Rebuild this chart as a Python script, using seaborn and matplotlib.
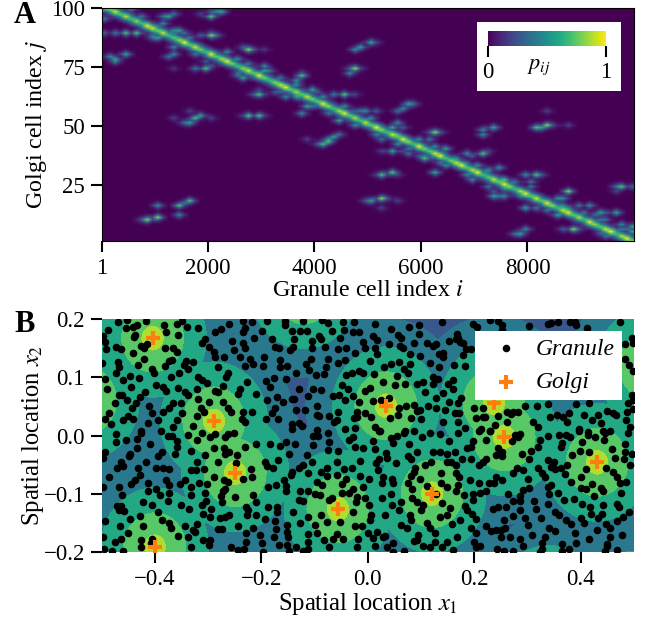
import numpy as np
import pandas as pd
import matplotlib.pyplot as plt
import seaborn as sns

# Panel A: strongest row/column entries
diag_i = [50, 150, 250, 350, 450, 550, 650, 750, 850, 950, 1050, 1150, 1250, 1350, 1450, 1550, 1650, 1750, 1850, 1950,
          2050, 2150, 2250, 2350, 2450, 2550, 2650, 2750, 2850, 2950, 3050, 3150, 3250, 3350, 3450, 3550, 3650, 3750, 3850, 3950,
          4050, 4150, 4250, 4350, 4450, 4550, 4650, 4750, 4850, 4950, 5050, 5150, 5250, 5350, 5450, 5550, 5650, 5750, 5850, 5950,
          6050, 6150, 6250, 6350, 6450, 6550, 6650, 6750, 6850, 6950, 7050, 7150, 7250, 7350, 7450, 7550, 7650, 7750, 7850, 7950,
          8050, 8150, 8250, 8350, 8450, 8550, 8650, 8750, 8850, 8950, 9050, 9150, 9250, 9350, 9450, 9550, 9650, 9750, 9850, 9950]
diag_p = [.95, .8, .95, .75, .9, .7, .85, .7, 1, .95, .8, .95, .7, .75, .85, 1, .75, .95, .8, .7,
          1, .75, .9, 1, .8, .7, .85, .95, .75, 1, .8, .7, .85, .95, 1, .75, .9, .75, .95, .8,
          .75, 1, .85, .7, .9, 1, .75, .9, .7, .95, .75, 1, .85, .7, .95, .75, 1, .85, .7, 1,
          .8, .75, .95, 1, .7, .8, .95, 1, .75, .9, 1, .7, .75, .95, .8, 1, .85, .7, .9, 1,
          .75, .95, .75, 1, .85, .7, .95, 1, .75, .9, .7, 1, .85, .75, .95, 1, .7, .9, 1, .85]
hot_cells = [
    (81, 94.8, .4), (533, 99.3, .4), (407, 88.7, .7), (470, 89.4, .5), (689, 88.7, .7), (282, 88.7, .4), (94, 88.7, .3),
    (188, 78.8, .5), (282, 78.1, .6), (407, 79.8, .6), (251, 77.4, .5), (1203, 96.5, .6), (1316, 96.8, .4), (1147, 95.8, .4),
    (1848, 96.8, .2), (2099, 96.5, .7), (2193, 97.6, .5), (2287, 98.3, .6), (2099, 98.2, .3), (1034, 86.6, .6), (1097, 91.5, .4),
    (1191, 92.9, .5), (940, 86.6, .4), (1347, 89.4, .4), (1441, 90.1, .6), (1535, 89.4, .4), (1347, 83.1, .5), (1316, 80.2, .5),
    (1272, 79.2, .4), (1848, 87.6, .3), (2068, 87.6, .8), (2193, 87.6, .4), (2068, 89.4, .3), (1911, 73.6, .7), (1786, 73.6, .4),
    (2005, 74.6, .3), (1974, 76.7, .3), (1316, 73.6, .15), (2726, 81.6, .8), (2851, 81.6, .3), (2694, 83.1, .3), (3039, 81.6, .15),
    (2600, 70.3, .6), (2569, 71.8, .4), (2757, 71.8, .4), (3039, 74.6, .5), (3102, 73.2, .4), (2914, 70.3, .4), (2926, 63.3, .7),
    (2820, 63.3, .3), (3039, 63.3, .2), (2926, 65.4, .2), (3227, 64, .3), (3478, 61.6, .5), (3603, 61.6, .6), (3666, 64, .3),
    (3728, 71.3, .7), (3666, 68.9, .5), (3791, 71.8, .3), (3603, 68.2, .4), (3948, 65.1, .6), (3885, 63.3, .5), (4010, 64, .3),
    (3822, 57.6, .6), (3791, 54.8, .5), (1347, 52.7, .2), (1535, 50.6, .4), (1660, 50.6, .6), (1754, 52.7, .7), (1880, 53.8, .6),
    (2005, 53.4, .2), (1692, 56.2, .2), (2757, 53.8, .7), (2914, 54.1, .7), (3039, 54.1, .2), (2632, 54.1, .2), (3854, 44.2, .2),
    (4167, 42.5, .7), (4261, 43.5, .6), (4042, 42.5, .3), (846, 9.6, .8), (1003, 11, .8), (721, 9.6, .3), (1046, 16, .5),
    (1473, 11.5, .5), (1473, 16, .7), (1660, 17.7, .7), (1504, 16.7, .4),
    (4574, 62.9, .7), (4323, 62.6, .4), (4731, 62.9, .2), (4449, 51.6, .6), (4856, 83.1, .6), (5013, 84.9, .6), (4762, 81.6, .5),
    (5138, 84.9, .2), (4781, 73.6, .8), (4637, 71.8, .5), (4637, 73.6, .3), (4887, 73.6, .2), (5796, 58.6, .6), (5639, 56.9, .5),
    (5545, 56.2, .4), (5890, 59, .4), (4229, 42.8, .7), (4386, 44.9, .6), (4480, 45.6, .4), (4950, 56.2, .5), (4731, 56.2, .3),
    (5107, 56.2, .3), (5107, 45.9, .5), (5107, 47.8, .3), (5451, 38.9, .6), (5295, 38.6, .2), (5608, 38.6, .2), (5577, 50.6, .5),
    (5608, 49.2, .3), (5407, 46.3, .5), (5545, 46.3, .7), (6234, 46.8, .8), (6141, 46.8, .3), (6360, 46.8, .3), (6172, 44.2, .4),
    (6222, 41.4, .4), (6078, 36, .7), (5952, 37.2, .3), (6485, 40, .6), (6454, 37.2, .5), (6360, 34.3, .4), (6297, 30.1, .6),
    (6172, 36, .3), (5796, 40, .4), (7112, 48.5, .5), (7300, 48.7, .6), (7143, 46.3, .5), (6830, 37.9, .5), (7112, 38.3, .7),
    (6986, 37.2, .3), (7206, 38.6, .2), (5263, 28.7, .7), (5407, 29.7, .7), (5138, 28.7, .2), (5545, 29.4, .2), (5201, 18.8, .8),
    (5044, 18.1, .6), (4919, 18.1, .3), (5326, 18.8, .3), (5201, 14.6, .2), (5577, 18.5, .2), (8114, 49.2, .7), (8365, 50.2, .8),
    (8240, 49.2, .6), (8490, 50.2, .3), (8710, 49.5, .2), (8365, 56.2, .2), (6974, 26.6, .5), (7425, 31.5, .5), (7362, 26.6, .5),
    (7519, 26.6, .7), (7237, 30.1, .4), (7300, 20.2, .6), (7425, 20.2, .4), (7550, 20.2, .5), (7362, 22.3, .3), (7989, 28.7, .5),
    (8114, 28.7, .7), (8083, 25.9, .4), (8240, 28.7, .3), (7926, 14.6, .6), (8114, 14.6, .4), (7989, 22.3, .4), (8741, 21.6, .8),
    (8678, 18.8, .5), (8616, 16, .5), (8584, 11.8, .6), (9775, 23.8, .7), (9618, 23.5, .4), (9931, 23.8, .3), (9649, 21.6, .2),
    (9618, 13.4, .6), (9493, 13.2, .3), (9305, 13.2, .6), (9117, 16, .5), (8960, 16, .4), (9054, 13.2, .4), (8835, 5.7, .8),
    (8678, 5.7, .3), (8960, 5.7, .3), (7864, 4.3, .6), (7770, 4, .4), (7926, 6.1, .5), (9305, 9.6, .4), (9430, 10.3, .4),
    (9712, 7.5, .5), (9963, 6.8, .6), (9869, 6.1, .4), (9493, 3.3, .4), (9681, 4.7, .6), (8427, 17.4, .6),
]
# teal spurs right next to the diagonal
near_diag_cells = [
    (700, 96, .4), (900, 88, .4), (1300, 90, .5), (1600, 87, .4), (1700, 80, .4), (2300, 81, .5), (2500, 78, .5), (2700, 76, .4),
    (2500, 71, .4), (3000, 73, .6), (3300, 70, .4), (3300, 64, .3), (3600, 67, .5), (3900, 58, .4), (4100, 62, .5), (4200, 55, .4),
    (4500, 58, .5), (4700, 50, .5), (4800, 56, .4), (5000, 53, .5), (5200, 44, .4), (5400, 49, .6), (5500, 42, .5), (5700, 38, .4),
    (5900, 44, .5), (6000, 37, .4), (6200, 41, .5), (6300, 36, .6), (6400, 33, .5), (6600, 36, .5), (6800, 29, .5), (6800, 34, .4),
    (7000, 33, .5), (7200, 24, .4), (7200, 31, .5), (7500, 23, .5), (7700, 26, .4), (7800, 20, .5), (8000, 24, .4), (8300, 14, .4),
    (8500, 19, .5), (8700, 15, .5), (9000, 11, .5), (9200, 12, .4), (9500, 6, .5), (9700, 6, .4), (9900, 5, .6), (9800, 1.5, .5),
    (9300, 4, .3),
]

# Panel B: cell positions
golgi_x1 = [-.404, -.289, .034, .237, -.249, -.400, -.056, .121, .256, .431]
golgi_x2 = [.167, .025, .051, .056, -.064, -.191, -.126, -.100, -.002, -.046]
# centres just outside the axes, guessed from the rings that reach into view
offview_x1 = [-.53, .53, .50, .34, -.12]
offview_x2 = [.06, .12, -.30, -.29, .25]
# distance from nearest Golgi cell at which the background changes band
ring_radii = [0, .022, .06, .103, .152, 1]

granule_top = [
    (-.469, .195), (-.453, .198), (-.416, .197), (-.349, .197), (-.383, .190), (-.359, .191), (-.340, .186), (-.318, .184),
    (-.454, .185), (-.441, .187), (-.434, .190), (-.487, .181), (-.379, .177), (-.356, .173), (-.437, .173), (-.439, .169),
    (-.498, .170), (-.493, .161), (-.492, .148), (-.473, .152), (-.464, .148), (-.425, .154), (-.421, .150), (-.415, .157),
    (-.381, .151), (-.365, .150), (-.358, .144), (-.440, .141), (-.421, .132), (-.431, .121), (-.381, .120), (-.374, .128),
    (-.368, .130), (-.341, .128), (-.328, .127), (-.346, .121), (-.337, .114), (-.354, .108), (-.406, .115), (-.401, .107),
    (-.469, .127), (-.468, .118), (-.473, .107), (-.499, .124), (-.446, .102), (-.430, .099), (-.370, .100), (-.493, .097),
    (-.459, .095), (-.445, .083), (-.398, .087), (-.384, .084), (-.378, .076), (-.356, .081), (-.344, .074), (-.337, .070),
    (-.321, .080), (-.319, .101), (-.312, .095), (-.301, .090), (-.468, .070), (-.461, .070), (-.418, .074), (-.428, .066),
    (-.490, .079), (-.475, .055), (-.453, .061), (-.435, .055), (-.442, .047), (-.410, .051), (-.366, .055), (-.374, .048),
    (-.385, .041), (-.351, .056), (-.348, .039), (-.485, .039), (-.493, .029), (-.450, .034), (-.441, .028), (-.459, .027),
    (-.406, .039), (-.393, .026), (-.358, .027), (-.482, .020), (-.412, .021), (-.366, .014), (-.425, .007), (-.318, .062),
    (-.298, .058), (-.281, .074), (-.271, .085), (-.286, .076), (-.314, .048), (-.308, .041), (-.321, .034), (-.328, .016),
    (-.271, .058), (-.262, .048), (-.257, .041), (-.234, .041), (-.217, .040), (-.237, .028), (-.230, .024), (-.192, .028),
    (-.190, .061), (-.306, .165), (-.312, .158), (-.299, .152), (-.287, .178), (-.276, .182), (-.260, .191), (-.234, .197),
    (-.217, .194), (-.190, .197), (-.199, .179), (-.230, .184), (-.235, .177), (-.214, .168), (-.254, .163), (-.234, .159),
    (-.252, .147), (-.230, .150), (-.289, .143), (-.286, .135), (-.270, .134), (-.240, .135), (-.221, .132), (-.195, .135),
    (-.216, .123), (-.230, .120), (-.196, .119), (-.281, .117), (-.263, .107), (-.266, .100), (-.191, .094), (-.226, .092),
    (-.240, .080), (-.243, .072), (-.210, .072), (-.183, .083),
    (-.155, .197), (-.121, .197), (-.085, .198), (-.074, .193), (-.046, .195), (-.026, .195), (.014, .191), (-.155, .189),
    (-.143, .179), (-.127, .179), (-.115, .179), (-.067, .179), (-.045, .181), (-.027, .177), (-.016, .178), (.044, .183),
    (.078, .187), (.096, .189), (.057, .173), (.062, .168), (.097, .174), (.139, .194), (-.179, .165), (-.139, .166),
    (-.105, .162), (-.091, .171), (-.087, .165), (-.053, .167), (.009, .171), (.018, .164), (.153, .163), (.165, .165),
    (.086, .158), (.111, .159), (.122, .154), (.129, .157), (-.008, .161), (-.005, .151), (.040, .157), (.060, .154),
    (.067, .150), (-.174, .152), (-.167, .151), (-.141, .152), (-.146, .146), (-.105, .150), (-.080, .152), (-.055, .148),
    (-.040, .151), (.014, .150), (-.024, .142), (.017, .140), (.079, .140), (.098, .137), (.133, .140), (.141, .142),
    (.142, .135), (-.165, .130), (-.107, .132), (-.116, .122), (-.074, .131), (-.043, .130), (-.055, .124), (.004, .128),
    (.043, .123), (.059, .126), (.079, .123), (.116, .124), (.162, .121), (-.164, .117), (-.152, .119), (-.110, .112),
    (-.078, .117), (.030, .117), (.069, .115), (.075, .108), (.134, .117), (-.135, .108), (-.098, .104), (-.082, .105),
    (-.041, .104), (-.030, .107), (-.016, .110), (-.008, .108), (.011, .106), (.055, .103), (-.176, .099), (-.154, .097),
    (.123, .101), (.131, .097), (.103, .092), (.092, .088), (.123, .088), (.150, .088), (.161, .095), (-.048, .086),
    (-.038, .080), (.028, .091), (.052, .087), (.070, .088), (-.006, .077), (.004, .081), (.160, .080), (-.129, .079),
    (-.102, .079), (-.088, .078), (.142, .073), (.108, .074), (-.170, .066), (-.143, .063), (-.139, .062), (-.113, .068),
    (-.066, .068), (-.054, .070), (-.027, .068), (.025, .061), (.040, .065), (.129, .065), (-.160, .058), (-.043, .061),
    (-.016, .057), (.009, .060), (.153, .058), (-.174, .048), (-.096, .051), (.072, .051), (.087, .052), (.114, .051),
    (.128, .048), (.059, .048), (-.135, .044), (-.117, .044), (-.056, .041), (-.021, .041), (-.006, .038), (.057, .035),
    (.092, .042), (.099, .043), (.146, .043), (-.180, .039), (-.096, .035), (-.092, .034), (-.073, .033), (-.021, .032),
    (.007, .031), (.041, .030), (.082, .030), (.100, .028), (.164, .038), (-.169, .028), (-.058, .027), (-.063, .023),
    (-.025, .030), (-.142, .019), (-.130, .022), (-.123, .017), (.142, .023), (-.142, .011), (-.096, .009), (-.043, .012),
    (-.024, .013), (.014, .014), (.022, .008), (.086, .008), (.070, .007),
    (.197, .191), (.230, .198), (.244, .197), (.252, .190), (.253, .181), (.303, .188), (.339, .191), (.345, .193),
    (.358, .195), (.380, .195), (.389, .194), (.392, .189), (.412, .185), (.474, .195), (.205, .187), (.167, .175),
    (.170, .167), (.178, .158), (.193, .148), (.185, .148), (.178, .138), (.183, .119), (.173, .161), (.176, .065),
    (.170, .055), (.172, .038), (.170, .024), (.183, .013), (.200, .047), (.217, .047), (.220, .032), (.203, .030),
    (.216, .032), (.295, .051), (.317, .050), (.339, .054), (.391, .054), (.416, .055), (.406, .036), (.244, .034),
    (.261, .041), (.273, .040), (.282, .040), (.269, .037), (.262, .024), (.239, .018), (.230, .008), (.311, .023),
    (.319, .015), (.342, .031), (.356, .035), (.366, .031), (.378, .039), (.375, .024), (.421, .027), (.433, .035),
    (.449, .042), (.461, .039), (.466, .035), (.438, .021), (.485, .027), (.397, .011), (.414, .006), (.442, .008),
    (.493, .014), (.212, .012), (.483, .157), (.496, .167), (.498, .158), (.483, .132), (.491, .121), (.498, .110),
    (.497, .070), (.498, .061), (.486, .041), (.489, .055), (.498, .046),
]
granule_bottom = [
    (-.473, .003), (-.425, .005), (-.388, .007), (-.376, -.001), (-.368, -.001), (-.337, .001), (-.312, .005), (-.268, -.003),
    (-.252, .005), (-.454, -.008), (-.434, -.006), (-.472, -.012), (-.408, -.015), (-.358, -.010), (-.321, -.008), (-.296, -.003),
    (-.287, .003), (-.262, .003), (-.359, -.020), (-.493, -.028), (-.497, -.039), (-.446, -.031), (-.448, -.036), (-.434, -.022),
    (-.387, -.028), (-.393, -.036), (-.362, -.032), (-.331, -.026), (-.289, -.022), (-.306, -.034), (-.270, -.022), (-.269, -.032),
    (-.261, -.028), (-.246, -.033), (-.230, -.019), (-.210, -.015), (-.183, -.014), (-.464, -.045), (-.460, -.052), (-.417, -.046),
    (-.470, -.056), (-.432, -.056), (-.428, -.068), (-.398, -.055), (-.385, -.055), (-.373, -.058), (-.321, -.046), (-.281, -.045),
    (-.248, -.048), (-.193, -.045), (-.190, -.052), (-.331, -.060), (-.323, -.059), (-.308, -.058), (-.219, -.058), (-.486, -.072),
    (-.437, -.076), (-.445, -.084), (-.412, -.082), (-.378, -.076), (-.374, -.085), (-.353, -.083), (-.343, -.076), (-.317, -.081),
    (-.288, -.072), (-.270, -.076), (-.262, -.079), (-.234, -.075), (-.218, -.071), (-.467, -.089), (-.497, -.088), (-.412, -.096),
    (-.398, -.091), (-.374, -.098), (-.331, -.088), (-.302, -.083), (-.268, -.091), (-.271, -.096), (-.276, -.104), (-.187, -.088),
    (-.462, -.103), (-.390, -.103), (-.376, -.112), (-.331, -.102), (-.306, -.099), (-.304, -.112), (-.249, -.106), (-.215, -.102),
    (-.423, -.114), (-.406, -.120), (-.351, -.119), (-.335, -.126), (-.274, -.114), (-.210, -.114), (-.470, -.121), (-.464, -.121),
    (-.468, -.128), (-.458, -.129), (-.312, -.120), (-.294, -.126), (-.229, -.123), (-.224, -.128), (-.187, -.123), (-.393, -.132),
    (-.310, -.134), (-.446, -.144), (-.428, -.138), (-.386, -.145), (-.297, -.140), (-.277, -.142), (-.268, -.140), (-.261, -.136),
    (-.227, -.137), (-.210, -.136), (-.193, -.143), (-.493, -.146), (-.373, -.151), (-.370, -.159), (-.344, -.155), (-.320, -.152),
    (-.282, -.160), (-.273, -.160), (-.243, -.156), (-.466, -.155), (-.324, -.165), (-.329, -.163), (-.215, -.159), (-.423, -.156),
    (-.450, -.168), (-.357, -.172), (-.337, -.175), (-.229, -.168), (-.202, -.170), (-.463, -.177), (-.474, -.183), (-.497, -.175),
    (-.425, -.179), (-.406, -.177), (-.407, -.185), (-.309, -.179), (-.296, -.179), (-.229, -.182), (-.199, -.185), (-.425, -.191),
    (-.332, -.191), (-.299, -.188), (-.257, -.192), (-.232, -.194), (-.243, -.196), (-.481, -.198), (-.495, -.194), (-.459, -.199),
    (-.197, -.200),
    (-.164, -.018), (-.154, -.012), (-.137, -.014), (-.148, -.032), (-.102, .000), (-.093, .000), (-.074, .005), (-.102, -.016),
    (-.072, -.012), (-.074, -.025), (-.056, -.027), (-.115, -.033), (-.035, -.007), (-.027, -.002), (-.024, -.020), (-.008, -.022),
    (.009, -.009), (.014, -.023), (.023, .007), (.043, -.005), (.054, .000), (.048, -.013), (.069, .005), (.078, -.015),
    (.101, -.002), (.116, .004), (.136, .002), (.153, -.009), (.034, -.030), (.036, -.038), (.076, -.035), (.082, -.040),
    (.092, -.029), (.122, -.029), (.136, -.029), (.170, .004), (.148, -.032), (.164, -.028), (-.168, -.042), (-.177, -.055),
    (-.104, -.045), (-.121, -.050), (-.130, -.055), (-.142, -.062), (-.144, -.067), (-.058, -.046), (-.014, -.044), (.022, -.041),
    (.015, -.048), (.053, -.048), (.107, -.051), (.118, -.046), (.148, -.046), (.156, -.046), (.166, -.050), (-.077, -.056),
    (-.088, -.062), (-.044, -.058), (-.076, -.069), (-.112, -.064), (-.058, -.068), (-.029, -.056), (.020, -.060), (-.015, -.070),
    (.002, -.074), (.029, -.071), (.089, -.055), (.081, -.069), (.086, -.062), (.137, -.065), (.166, -.064), (-.172, -.085),
    (-.157, -.076), (-.154, -.086), (-.154, -.096), (-.096, -.080), (-.085, -.085), (-.040, -.074), (-.049, -.083), (.027, -.081),
    (.045, -.074), (.047, -.082), (.098, -.074), (.076, -.081), (.084, -.092), (.112, -.086), (.137, -.081), (.170, -.085),
    (.148, -.088), (.166, -.095), (-.028, -.091), (-.127, -.096), (-.113, -.095), (-.099, -.101), (-.090, -.102), (-.048, -.099),
    (-.035, -.098), (-.008, -.088), (.129, -.100), (.044, -.101), (-.020, -.105), (-.006, -.107), (-.068, -.107), (-.072, -.111),
    (.026, -.108), (-.130, -.110), (-.121, -.112), (-.022, -.114), (.084, -.108), (.092, -.114), (.103, -.119), (.062, -.114),
    (.002, -.119), (.045, -.120), (.139, -.116), (-.171, -.123), (.059, -.128), (-.170, -.131), (-.141, -.132), (-.028, -.131),
    (.032, -.136), (.100, -.128), (.154, -.124), (.079, -.136), (.081, -.145), (.148, -.136), (.136, -.140), (-.113, -.140),
    (-.088, -.136), (.007, -.136), (-.174, -.146), (-.077, -.148), (-.127, -.151), (-.052, -.148), (-.152, -.154), (-.099, -.154),
    (-.024, -.155), (-.010, -.155), (.005, -.145), (.111, -.150), (.062, -.154), (.074, -.159), (.117, -.159), (.158, -.152),
    (-.173, -.161), (-.096, -.167), (-.151, -.165), (.000, -.168), (.017, -.165), (-.112, -.169), (-.058, -.169), (.126, -.168),
    (.095, -.171), (-.149, -.175), (-.176, -.175), (-.112, -.182), (-.082, -.179), (-.066, -.178), (-.047, -.178), (-.018, -.178),
    (.010, -.176), (.032, -.172), (.028, -.175), (.092, -.179), (.148, -.182), (.167, -.175), (.126, -.182), (.086, -.181),
    (-.167, -.188), (-.151, -.188), (-.134, -.192), (-.112, -.195), (-.020, -.191), (.014, -.189), (.037, -.191), (.048, -.184),
    (.104, -.189), (.117, -.191), (.139, -.192), (-.072, -.192), (-.122, -.198), (-.147, -.198), (.047, -.200), (.069, -.199),
    (.161, -.197),
    (.208, .007), (.230, .007), (.286, .003), (.277, .001), (.283, -.002), (.338, .000), (.359, .001), (.372, .001),
    (.379, -.003), (.397, .007), (.414, .001), (.426, -.002), (.446, .004), (.455, .007), (.444, -.007), (.488, .004),
    (.197, -.009), (.223, -.008), (.324, -.008), (.270, -.010), (.364, -.013), (.362, -.020), (.402, -.012), (.484, -.015),
    (.483, -.028), (.497, -.031), (.186, -.022), (.193, -.020), (.244, -.022), (.252, -.029), (.240, -.033), (.253, -.036),
    (.290, -.032), (.307, -.026), (.320, -.019), (.399, -.026), (.416, -.028), (.383, -.033), (.458, -.024), (.177, -.041),
    (.193, -.041), (.223, -.041), (.217, -.045), (.209, -.050), (.302, -.040), (.339, -.042), (.350, -.045), (.375, -.051),
    (.481, -.041), (.464, -.039), (.447, -.055), (.493, -.051), (.319, -.055), (.281, -.056), (.292, -.060), (.272, -.064),
    (.345, -.054), (.352, -.058), (.363, -.056), (.370, -.066), (.410, -.058), (.172, -.072), (.461, -.063), (.327, -.065),
    (.332, -.072), (.300, -.075), (.240, -.072), (.253, -.076), (.192, -.076), (.209, -.081), (.228, -.082), (.237, -.081),
    (.381, -.079), (.400, -.072), (.468, -.072), (.474, -.081), (.485, -.080), (.345, -.085), (.339, -.088), (.303, -.090),
    (.291, -.094), (.422, -.084), (.400, -.090), (.410, -.092), (.438, -.090), (.441, -.095), (.222, -.095), (.210, -.099),
    (.198, -.100), (.181, -.102), (.263, -.101), (.358, -.098), (.340, -.100), (.424, -.104), (.476, -.099), (.285, -.104),
    (.273, -.112), (.286, -.112), (.198, -.111), (.312, -.112), (.388, -.109), (.369, -.111), (.339, -.118), (.402, -.118),
    (.442, -.119), (.468, -.118), (.471, -.122), (.183, -.121), (.187, -.128), (.260, -.122), (.244, -.122), (.235, -.126),
    (.285, -.128), (.316, -.126), (.418, -.123), (.491, -.131), (.196, -.135), (.352, -.132), (.360, -.136), (.440, -.134),
    (.419, -.135), (.480, -.140), (.469, -.146), (.272, -.138), (.256, -.145), (.203, -.144), (.173, -.145), (.295, -.142),
    (.325, -.141), (.372, -.145), (.401, -.142), (.407, -.150), (.433, -.141), (.381, -.152), (.447, -.152), (.454, -.158),
    (.300, -.154), (.193, -.158), (.222, -.156), (.231, -.164), (.258, -.159), (.250, -.162), (.240, -.162), (.340, -.158),
    (.352, -.164), (.430, -.162), (.389, -.168), (.203, -.168), (.250, -.175), (.267, -.174), (.308, -.171), (.332, -.174),
    (.477, -.171), (.285, -.177), (.455, -.175), (.416, -.177), (.364, -.186), (.392, -.185), (.327, -.185), (.200, -.183),
    (.211, -.189), (.203, -.191), (.242, -.194), (.291, -.189), (.377, -.195), (.327, -.194), (.449, -.186), (.449, -.190),
    (.256, -.198), (.273, -.198), (.324, -.200), (.364, -.199), (.446, -.199), (.468, -.197),
]

sns.set_style("ticks")
plt.rcParams["font.family"] = ["Liberation Serif", "DejaVu Serif"]
plt.rcParams["mathtext.fontset"] = "stix"
plt.rcParams.update({"text.color": "black", "axes.labelcolor": "black", "xtick.color": "black", "ytick.color": "black",
                     "axes.edgecolor": "black", "axes.linewidth": 0.8})
viridis = sns.color_palette("viridis", as_cmap=True)
W, H = 649, 619


def fig_box(left, top, right, bottom):
    # pixel box of the canvas -> figure fractions
    return [left / W, 1 - bottom / H, (right - left) / W, (bottom - top) / H]


def spread(smooth, row, col, p, kernel):
    # soften one read cell like the reference image, rows +-2 and columns +-1
    for dr in range(-2, 3):
        for dc in range(-1, 2):
            if 0 <= row + dr < 100 and 0 <= col + dc < 100:
                smooth[row + dr, col + dc] = max(smooth[row + dr, col + dc], p * kernel[dr + 2, dc + 1])


fig = plt.figure(figsize=(W / 100, H / 100), dpi=100)
ax_a = fig.add_axes(fig_box(101.5, 8, 634, 241))
ax_b = fig.add_axes(fig_box(101.5, 319, 634, 552))

# A: connection probabilities
diag_kernel = np.array([[.12, .28, .12], [.3, .7, .3], [.5, 1, .5], [.3, .7, .3], [.12, .28, .12]])
spot_kernel = np.array([[0, .1, 0], [.1, .42, .1], [.28, 1, .28], [.1, .42, .1], [0, .1, 0]])
pij = np.zeros((100, 100))
for row, (i, p) in enumerate(zip(diag_i, diag_p)):
    spread(pij, 99 - row, int(i // 100), p, diag_kernel)
for i, j, p in hot_cells + near_diag_cells:
    spread(pij, int(round(j)) - 1, min(int(i // 100), 99), p, spot_kernel)

im = ax_a.imshow(pij, origin="lower", aspect="auto", cmap=viridis, vmin=0, vmax=1,
                 interpolation="bilinear", extent=(0, 10000, 0.5, 100.5))
ax_a.set_xlim(1, 10000)
ax_a.set_ylim(1, 100)
ax_a.set_xticks([1, 2000, 4000, 6000, 8000])
ax_a.set_yticks([25, 50, 75, 100])
ax_a.set_xlabel("Granule cell index $i$", fontsize=17.3, labelpad=1)
ax_a.set_ylabel("Golgi cell index $j$", fontsize=17.3, labelpad=1)

# colour bar sitting on a white card
card = fig.add_axes(fig_box(477, 22, 621, 91), facecolor="white", xticks=[], yticks=[])
for s in card.spines.values():
    s.set_visible(False)
cax = fig.add_axes(fig_box(488, 31, 606, 45.5))
cbar = fig.colorbar(im, cax=cax, orientation="horizontal", ticks=[0, 1])
cbar.outline.set_visible(False)
cax.tick_params(length=8, width=1.5, labelsize=16.5, pad=4)
fig.text(539 / W, 1 - 67 / H, "$p_{ij}$", fontsize=16, ha="center", va="center")

# B: background bands, from the distance to the nearest Golgi cell.
# An approximation of the reference's surface, not values read pixel by pixel.
grid_x, grid_y = np.meshgrid(np.arange(-.5, .5005, .001), np.arange(-.2, .2005, .001))
centres_x = np.array(golgi_x1 + offview_x1)
centres_y = np.array(golgi_x2 + offview_x2)
dist = np.sqrt((grid_x[..., None] - centres_x) ** 2 + (grid_y[..., None] - centres_y) ** 2).min(axis=-1)
band_colors = [viridis(.88), viridis(.74), viridis(.6), viridis(.4), viridis(.27)]
ax_b.contourf(grid_x, grid_y, dist, levels=ring_radii, colors=band_colors)

granule = pd.DataFrame(granule_top + granule_bottom, columns=["x1", "x2"])
sns.scatterplot(data=granule, x="x1", y="x2", color="black", s=30, linewidth=0, ax=ax_b, label="Granule")
sns.scatterplot(x=golgi_x1, y=golgi_x2, color="#ff7f0e", marker="+", s=115, linewidth=3, ax=ax_b, label="Golgi", zorder=5)
ax_b.set_xlim(-.5, .5)
ax_b.set_ylim(-.2, .2)
ax_b.set_xticks([-.4, -.2, 0, .2, .4])
ax_b.set_yticks([-.2, -.1, 0, .1, .2])
ax_b.set_xlabel("Spatial location $x_1$", fontsize=17.7, labelpad=1)
ax_b.set_ylabel("Spatial location $x_2$", fontsize=17.7, labelpad=-2)
for s in ax_b.spines.values():
    s.set_visible(False)
ax_b.legend(loc="upper right", bbox_to_anchor=(.9775, .9485), borderaxespad=0, framealpha=1, edgecolor="none",
            fancybox=False, prop={"style": "italic", "size": 17}, labelspacing=.52, handlelength=2.03, handletextpad=.25, borderpad=.3)

for ax in (ax_a, ax_b):
    ax.tick_params(length=8, width=1.5, labelsize=16.5, pad=4)

fig.text(14 / W, 1 - 23 / H, "A", fontsize=22, fontweight="bold")
fig.text(14 / W, 1 - 332 / H, "B", fontsize=22, fontweight="bold")

fig.savefig("out.png", dpi=100)
